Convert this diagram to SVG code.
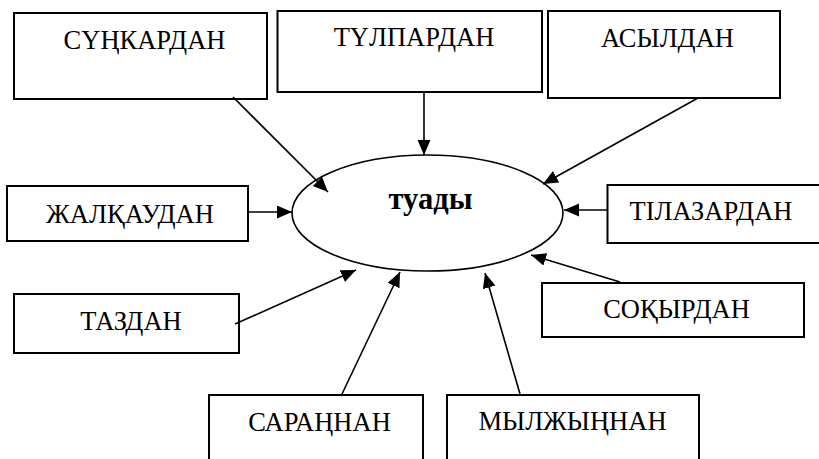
<svg xmlns="http://www.w3.org/2000/svg" width="819" height="459" viewBox="0 0 819 459">
<style>
.box{fill:#fff;stroke:#000;stroke-width:2}
.edge{stroke:#000;stroke-width:1.6;fill:none;marker-end:url(#ah)}
</style>
<defs>
<marker id="ah" markerUnits="userSpaceOnUse" markerWidth="16" markerHeight="14" refX="15" refY="6.5" orient="auto">
<path d="M0,0 L15,6.5 L0,13 Z" fill="#000"/>
</marker>
</defs>
<rect width="819" height="459" fill="#fff"/>
<g font-family="'Times New Roman', 'Liberation Serif', 'DejaVu Serif', serif" font-size="26.5" text-anchor="middle" fill="#000">
<g id="center">
<ellipse cx="427.5" cy="213" rx="135.5" ry="58" fill="#fff" stroke="#000" stroke-width="1.6"/>
<text x="430.5" y="209" font-size="30.5" font-weight="bold">туады</text>
</g>
<g id="n-sunkar"><rect class="box" x="14" y="13" width="253" height="86"/><text x="144.5" y="49">СҮҢКАРДАН</text></g>
<g id="n-tulpar"><rect class="box" x="277.5" y="11" width="264.5" height="81"/><text x="414" y="46">ТҮЛПАРДАН</text></g>
<g id="n-asyl"><rect class="box" x="548" y="11" width="232" height="87"/><text x="667.5" y="47">АСЫЛДАН</text></g>
<g id="n-zhalkau"><rect class="box" x="7" y="186" width="241" height="55"/><text x="130" y="223">ЖАЛҚАУДАН</text></g>
<g id="n-tilazar"><rect class="box" x="607.5" y="185" width="230" height="58"/><text x="711" y="220">ТІЛАЗАРДАН</text></g>
<g id="n-taz"><rect class="box" x="14" y="294" width="225" height="59"/><text x="131" y="330">ТАЗДАН</text></g>
<g id="n-sokyr"><rect class="box" x="542" y="283" width="262" height="54"/><text x="676.5" y="318">СОҚЫРДАН</text></g>
<g id="n-saran"><rect class="box" x="209" y="395" width="214" height="80"/><text x="319.5" y="431">САРАҢНАН</text></g>
<g id="n-mylzhyn"><rect class="box" x="447" y="395" width="252" height="80"/><text x="572.5" y="430">МЫЛЖЫҢНАН</text></g>
</g>
<g id="connectors">
<line class="edge" x1="233" y1="97" x2="328" y2="192"/>
<line class="edge" x1="424" y1="92" x2="424" y2="155"/>
<line class="edge" x1="698" y1="98" x2="543" y2="184"/>
<line class="edge" x1="248" y1="212" x2="292" y2="212"/>
<line class="edge" x1="607" y1="210" x2="564" y2="210"/>
<line class="edge" x1="235" y1="324" x2="356" y2="270"/>
<line class="edge" x1="620" y1="282" x2="531" y2="255"/>
<line class="edge" x1="342" y1="394" x2="400" y2="272"/>
<line class="edge" x1="520" y1="394" x2="485" y2="273"/>
</g>
</svg>
